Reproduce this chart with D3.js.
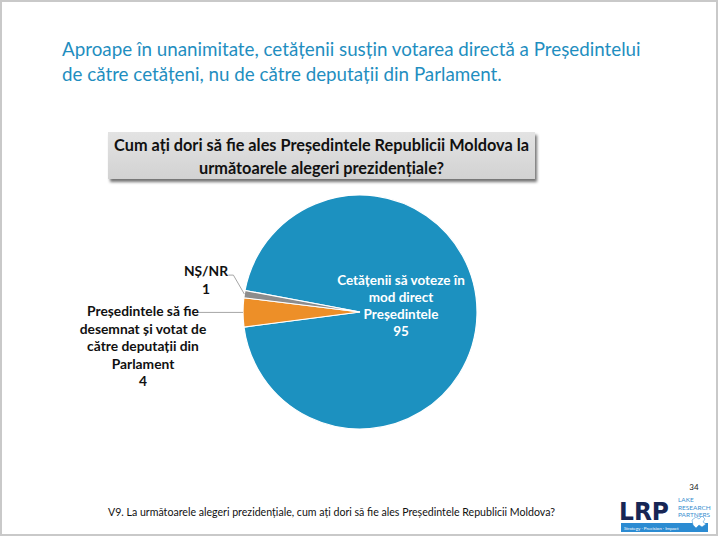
<!DOCTYPE html>
<html><head><meta charset="utf-8">
<script src="https://cdn.jsdelivr.net/npm/d3@7"></script>
<style>body{margin:0;background:#fff}svg{display:block}</style>
</head><body>
<script>
const titleLines = ["Aproape în unanimitate, cetățenii susțin votarea directă a Președintelui","de către cetățeni, nu de către deputații din Parlament."];
const questionLines = ["Cum ați dori să fie ales Președintele Republicii Moldova la","următoarele alegeri prezidențiale?"];
const categories = ["Cetățenii să voteze în mod direct Președintele","Președintele să fie desemnat și votat de către deputații din Parlament","NȘ/NR"];
const values = [95, 4, 1];
const colors = ["#1c91c0", "#ed8f28", "#8c8c8c"];
const labelLines = [["Cetățenii să voteze în","mod direct","Președintele"],["Președintele să fie","desemnat și votat de","către deputații din","Parlament"],["NȘ/NR"]];
const footnote = "V9. La următoarele alegeri prezidențiale, cum  ați dori să fie ales Președintele Republicii  Moldova?";
const pageNum = "34";

const W=720,H=540;
const svg=d3.select("body").append("svg").attr("width",W).attr("height",H);
const defs=svg.append("defs");
const f=defs.append("filter").attr("id","sh").attr("x","-5%").attr("y","-20%").attr("width","115%").attr("height","160%");
f.append("feDropShadow").attr("dx",2).attr("dy",3).attr("stdDeviation",1.5).attr("flood-color","#000").attr("flood-opacity",0.55);
const g=defs.append("linearGradient").attr("id","bx").attr("x1",0).attr("y1",0).attr("x2",0).attr("y2",1);
g.append("stop").attr("offset",0).attr("stop-color","#e3e3e3");
g.append("stop").attr("offset",1).attr("stop-color","#d2d2d2");

// slide frame
svg.append("rect").attr("x",1).attr("y",1).attr("width",716).attr("height",534).attr("fill","#fff").attr("stroke","#c9c9c9").attr("stroke-width",2);

const font="Lato, 'Open Sans', sans-serif";
svg.append("g").selectAll("text").data(titleLines).join("text")
  .attr("x",62).attr("y",(d,i)=>56+i*25).attr("font-family",font).attr("font-size",18.8)
  .attr("fill","#1f8ec0").text(d=>d);

// question box
svg.append("rect").attr("x",108).attr("y",132).attr("width",427).attr("height",47).attr("fill","url(#bx)").attr("filter","url(#sh)");
svg.append("g").selectAll("text").data(questionLines).join("text")
  .attr("x",321.5).attr("y",(d,i)=>151+i*23).attr("text-anchor","middle").attr("font-family",font)
  .attr("font-weight","bold").attr("font-size",16.3).attr("fill","#111").text(d=>d);

// pie
const cx=360, cy=312, r=117;
const start=-79.4*Math.PI/180;
const pie=d3.pie().sort(null).startAngle(start).endAngle(start+2*Math.PI);
const arcs=pie(values);
const arc=d3.arc().innerRadius(0).outerRadius(r);
const pg=svg.append("g").attr("transform",`translate(${cx},${cy})`);
pg.selectAll("path").data(arcs).join("path").attr("d",arc)
  .attr("fill",(d,i)=>colors[i]).attr("stroke","#fff").attr("stroke-width",1.2);

// blue label (inside)
const bl=pg.append("text").attr("font-family",font).attr("font-weight","bold").attr("font-size",13.5)
  .attr("fill","#fff").attr("text-anchor","middle");
labelLines[0].concat([String(values[0])]).forEach((t,i)=>bl.append("tspan").attr("x",41).attr("y",-27+i*17).text(t));

function edge(a, rr){return [Math.sin(a)*rr, -Math.cos(a)*rr];}
// orange leader
const oa=(arcs[1].startAngle+arcs[1].endAngle)/2;
const op=edge(oa,r);
pg.append("polyline").attr("points",[op,[op[0]-46,op[1]]].map(p=>p.join(",")).join(" "))
  .attr("fill","none").attr("stroke","#a6a6a6").attr("stroke-width",1);
const ol=svg.append("text").attr("font-family",font).attr("font-weight","bold").attr("font-size",13.8)
  .attr("fill","#111").attr("text-anchor","middle");
labelLines[1].concat([String(values[1])]).forEach((t,i)=>ol.append("tspan").attr("x",143).attr("y",316+i*17.5).text(t));

// gray leader
const ga=(arcs[2].startAngle+arcs[2].endAngle)/2;
const gp=edge(ga,r);
pg.append("polyline").attr("points",[gp,[gp[0]-11,gp[1]-19],[gp[0]-16,gp[1]-19]].map(p=>p.join(",")).join(" "))
  .attr("fill","none").attr("stroke","#a6a6a6").attr("stroke-width",1);
const gl=svg.append("text").attr("font-family",font).attr("font-weight","bold").attr("font-size",13.8)
  .attr("fill","#111").attr("text-anchor","middle");
labelLines[2].concat([String(values[2])]).forEach((t,i)=>gl.append("tspan").attr("x",206).attr("y",276+i*17.5).text(t));

// footnote
svg.append("text").attr("x",108).attr("y",516).attr("font-family",font).attr("font-size",10.6).attr("fill","#111").text(footnote);
svg.append("text").attr("x",694).attr("y",490).attr("font-family",font).attr("font-size",8).attr("fill","#222").attr("text-anchor","middle").text(pageNum);

// logo
const lg=svg.append("g");
lg.append("text").attr("x",619).attr("y",520).attr("font-family","'DejaVu Sans', sans-serif").attr("font-weight","bold").attr("font-size",25).attr("fill","#172655").attr("textLength",50).attr("lengthAdjust","spacingAndGlyphs").text("LRP");
["LAKE","RESEARCH","PARTNERS"].forEach((t,i)=>lg.append("text").attr("x",678).attr("y",502+i*7.5).attr("font-family",font).attr("font-size",6.5).attr("fill","#3a8fd0").text(t));
lg.append("rect").attr("x",621).attr("y",523).attr("width",87).attr("height",9).attr("fill","#2b8bd2");
lg.append("text").attr("x",624).attr("y",529.5).attr("font-family",font).attr("font-size",4.5).attr("fill","#fff").text("Strategy · Precision · Impact");
lg.append("path").attr("d","M692,520 l4,-3 l3,2 l3,-3 l3,3 l-2,3 l3,2 l-4,3 l-3,-2 l-3,3 l-3,-3 z").attr("fill","#fff").attr("stroke","#2b8bd2").attr("stroke-width",0.5);
</script>
</body></html>
